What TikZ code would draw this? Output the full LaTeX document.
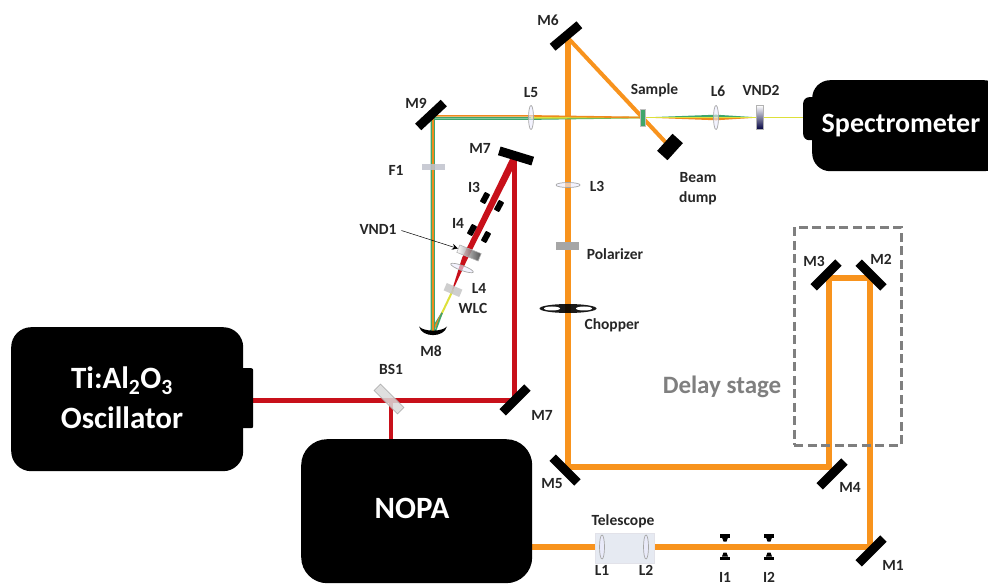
\documentclass[tikz,border=0pt]{standalone}
\usepackage{fontspec}
\setmainfont{Carlito}
\usetikzlibrary{arrows.meta,backgrounds,shapes.geometric}
\definecolor{pumporange}{HTML}{F8931D}
\definecolor{laserred}{HTML}{C8101A}
\definecolor{probegreen}{HTML}{3FA66B}
\definecolor{probeorange}{HTML}{EE8A1E}
\definecolor{probeyellow}{HTML}{DDE03A}
\definecolor{labelgray}{HTML}{7F7F7F}
\definecolor{opticgray}{HTML}{BFC2CC}
\definecolor{telefill}{HTML}{E6EAF2}
\tikzset{
	lbl/.style={font=\bfseries\fontsize{15.5}{17}\selectfont,text=black!85,inner sep=0pt,align=center},
	boxlbl/.style={font=\bfseries\fontsize{#1}{34}\selectfont,text=white,inner sep=0pt,align=center},
	blackbox/.style={fill=black,rounded corners=#1,anchor=north west,inner sep=0pt},
	mirror/.style={fill=black,minimum width=35,minimum height=9,inner sep=0pt},
	vlens/.style={ellipse,draw=gray!70,fill=blue!8,fill opacity=0.6,line width=0.7,minimum width=5,minimum height=24,inner sep=0pt},
	hlens/.style={ellipse,draw=gray!70,fill=blue!8,fill opacity=0.6,line width=0.7,minimum width=24,minimum height=5,inner sep=0pt},
	plate/.style={fill=opticgray,fill opacity=0.85,inner sep=0pt},
	irisblob/.style={fill=black,minimum width=11,minimum height=6,inner sep=0pt,rounded corners=0.8},
	irisjaw/.pic={\fill (-5,0) rectangle (5,3.5); \fill (-3,3.5) -- (3,3.5) -- (1.5,7.5) -- (-1.5,7.5) -- cycle;},
	pump/.style={draw=pumporange,line width=5.5},
	redbeam/.style={draw=laserred,line width=#1},
	ray/.style={line width=1.6},
	chophole/.style={ellipse,fill=white,minimum width=16,minimum height=4,inner sep=0pt}
}
\begin{document}
\begin{tikzpicture}[x=1pt,y=-1pt]
	\useasboundingbox (0,0) rectangle (988,585);

	\node[blackbox=20,minimum width=232,minimum height=144] (Osc) at (11,327) {};
	\node[blackbox=2,minimum width=12,minimum height=60] (OscOut) at (241,368) {};
	\node[blackbox=26,minimum width=231,minimum height=144] (NOPA) at (301,439) {};
	\node[blackbox=18,minimum width=190,minimum height=91] (Spec) at (812,80) {};
	\node[blackbox=6,minimum width=20,minimum height=43] (SpecIn) at (803,97) {};

	\node[boxlbl=31] (OscText) at (122,398) {Ti:Al\textsubscript{2}O\textsubscript{3}\\[6pt]Oscillator};
	\node[boxlbl=31] (NOPAText) at (412,508) {NOPA};
	\node[boxlbl=28] (SpecText) at (901,126) {Spectrometer};

	\node[draw=labelgray,dash pattern=on 9pt off 4.5pt,line width=2.7,minimum width=107,minimum height=218,anchor=north west,inner sep=0pt] (Stage) at (793,226) {};
	\node[font=\bfseries\fontsize{25}{29}\selectfont,text=labelgray,inner sep=0pt] (StageText) at (722,387) {Delay stage};

	\node[fill=telefill,draw=blue!15!gray!20,line width=0.5,minimum width=59,minimum height=30,anchor=north west,inner sep=0pt] (Tele) at (595,533) {};

	\node[mirror,rotate=45] (M1) at (871,551) {};
	\node[mirror,rotate=-45] (M2) at (871,275) {};
	\node[mirror,rotate=45] (M3) at (826,275) {};
	\node[mirror,rotate=45] (M4) at (832,474) {};
	\node[mirror,rotate=-45] (M5) at (565,470) {};
	\node[mirror,rotate=40] (M6) at (566,36) {};
	\node[mirror,rotate=-17] (M7a) at (516,156) {};
	\node[mirror,rotate=45] (M7b) at (515,400) {};
	\node[mirror,rotate=43] (M9) at (431,115) {};
	\node[fill=black,minimum width=14,minimum height=23,inner sep=0pt,rotate=-42] (Dump) at (670,147) {};
	\fill (419,326.5) .. controls (424,332) and (442,332) .. (447,326.5) .. controls (444,338) and (422,338) .. cycle;

	\coordinate (hitA) at (870,547);
	\coordinate (hitB) at (870,278);
	\coordinate (hitC) at (829,278);
	\coordinate (hitD) at (829,467);
	\coordinate (hitE) at (568,467);
	\coordinate (hitF) at (568,38);
	\coordinate (hitG) at (514,158);
	\coordinate (hitH) at (514,400);
	\coordinate (hitI) at (391,400);
	\coordinate (hitJ) at (433,117.5);
	\coordinate (hitK) at (433,331);
	\coordinate (nopaOut) at (532,547);
	\coordinate (oscOut) at (253,400);
	\coordinate (nopaIn) at (391,440);
	\coordinate (specIn) at (803,117.5);
	\coordinate (wlcMid) at (442,313);

	\node[plate,minimum width=33,minimum height=9,draw=gray!60,line width=0.6,rotate=-45,fill=gray!30] (BS) at (389,399) {};
	\node[plate,minimum width=23,minimum height=6] (F1) at (433,167) {};
	\node[plate,minimum width=17,minimum height=8,fill=gray!45,rotate=-23] (WLC) at (453,290) {};
	\node[fill=gray!70,minimum width=23,minimum height=8,inner sep=0pt] (Pol) at (567.5,246) {};
	\node[draw=gray!60,line width=0.6,left color=white,right color=black!80,fill opacity=0.85,minimum width=23,minimum height=8,inner sep=0pt,rotate=-22] (VND1) at (469,253) {};
	\node[draw=gray!60,line width=0.5,top color=white,bottom color=black!75!blue,minimum width=7,minimum height=24,inner sep=0pt] (VND2) at (760,117.5) {};
	\node[fill=probegreen,draw=gray!50,line width=0.5,minimum width=5,minimum height=17,inner sep=0pt] (Sample) at (642.5,117.5) {};

	\node[vlens] (L1) at (602,547) {};
	\node[vlens] (L2) at (646,547) {};
	\node[hlens] (L3) at (568,185) {};
	\node[hlens,rotate=-20] (L4) at (462,268) {};
	\node[vlens] (L5) at (531,117.5) {};
	\node[vlens] (L6) at (716,117.5) {};

	\node[ellipse,fill=black,fill opacity=0.9,minimum width=57,minimum height=9,inner sep=0pt] (Chop) at (568,308.5) {};
	\node[chophole] (ChopA) at (552,308.5) {};
	\node[chophole] (ChopB) at (584,308.5) {};

	\pic at (725,534) {irisjaw};
	\pic at (769,534) {irisjaw};
	\pic[yscale=-1] at (725,560) {irisjaw};
	\pic[yscale=-1] at (769,560) {irisjaw};
	\node[irisblob,rotate=62] (I3a) at (485,198) {};
	\node[irisblob,rotate=62] (I3b) at (499,206) {};
	\node[irisblob,rotate=62] (I4a) at (472,230) {};
	\node[irisblob,rotate=62] (I4b) at (486,237) {};

	\begin{pgfonlayer}{background}
		\draw[pump,miter limit=4] (nopaOut) -- (hitA) -- (hitB) -- (hitC) -- (hitD) -- (hitE) -- (hitF);
		\draw[draw=pumporange,line width=4] (hitF) -- (Dump.center);
		\draw[redbeam=5] (oscOut) -- (hitH) -- (hitG);
		\draw[redbeam=4] (hitI) -- (nopaIn);
		\fill[laserred] (510.5,158) -- (517.5,160) -- (467,260) -- (453,290) -- (452.2,289.6) -- (462,258) -- cycle;
		\draw[ray,draw=probeyellow,line width=2] (WLC.center) -- (wlcMid);
		\draw[ray,draw=probegreen] (wlcMid) -- (430.8,331);
		\draw[ray,draw=probeorange] (wlcMid) -- (hitK);
		\draw[ray,draw=probegreen] (wlcMid) -- (435.4,331);
		\draw[ray,draw=probegreen] ([xshift=-1.6]hitK) -- ([xshift=-1.6,yshift=-1.6]hitJ) -- ([yshift=-1.6]L5.center) -- (Sample.center);
		\draw[ray,draw=probegreen] ([xshift=1.6]hitK) -- ([xshift=1.6]hitJ) -- (L5.center) -- (Sample.center);
		\draw[ray,draw=probeyellow] ([yshift=-0.3]L5.center) -- (Sample.center);
		\draw[ray,draw=probeorange] (hitK) -- ([yshift=1.6]hitJ) -- ([yshift=1.6]L5.center) -- (Sample.center);
		\fill[probegreen] (Sample.center) -- ([yshift=2.8]L6.center) -- (VND2.center) -- cycle;
		\fill[probeorange] (Sample.center) -- ([yshift=-2.8]L6.center) -- (VND2.center) -- cycle;
		\draw[draw=probeyellow,line width=1.3] (Sample.center) -- (specIn);
	\end{pgfonlayer}

	\node[lbl] (tM1) at (893,565) {M1};
	\node[lbl] (tM2) at (881,259) {M2};
	\node[lbl] (tM3) at (814,261) {M3};
	\node[lbl] (tM4) at (850,487) {M4};
	\node[lbl] (tM5) at (552,484) {M5};
	\node[lbl] (tM6) at (548,20) {M6};
	\node[lbl] (tM7a) at (480,148) {M7};
	\node[lbl] (tM7b) at (542,415) {M7};
	\node[lbl] (tM8) at (431,351) {M8};
	\node[lbl] (tM9) at (416,103) {M9};
	\node[lbl] (tL1) at (602,570) {L1};
	\node[lbl] (tL2) at (646,570) {L2};
	\node[lbl] (tL3) at (597,186) {L3};
	\node[lbl] (tL4) at (479,288) {L4};
	\node[lbl] (tL5) at (531,93) {L5};
	\node[lbl] (tL6) at (718,91) {L6};
	\node[lbl] (tI1) at (725,577) {I1};
	\node[lbl] (tI2) at (769,577) {I2};
	\node[lbl] (tI3) at (474,187) {I3};
	\node[lbl] (tI4) at (458,223) {I4};
	\node[lbl] (tF1) at (396,170) {F1};
	\node[lbl] (tBS) at (391,369) {BS1};
	\node[lbl] (tWLC) at (473,308) {WLC};
	\node[lbl] (tVND1) at (378,229) {VND1};
	\node[lbl] (tVND2) at (761,90) {VND2};
	\node[lbl] (tSample) at (654.5,90) {Sample};
	\node[lbl] (tDump) at (698,189) {Beam\\[3pt]dump};
	\node[lbl] (tPol) at (615,254) {Polarizer};
	\node[lbl] (tChop) at (612,325) {Chopper};
	\node[lbl] (tTele) at (623,521) {Telescope};

	\draw[-{Stealth[length=6pt,width=6pt]},line width=0.5,shorten <=5pt] (tVND1.east) -- (VND1.west);
\end{tikzpicture}
\end{document}
